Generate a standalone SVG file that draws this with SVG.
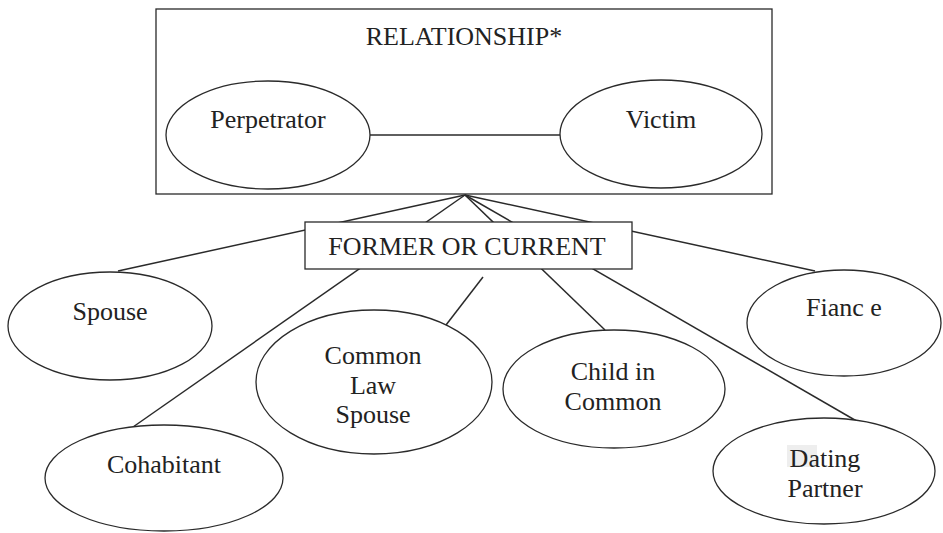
<svg xmlns="http://www.w3.org/2000/svg" width="943" height="533" viewBox="0 0 943 533">
<style>
  .shape { fill: #ffffff; stroke: #2a2a2a; stroke-width: 1.3; }
  .line { stroke: #2a2a2a; stroke-width: 1.5; fill: none; }
  .lbl { font-family: "Liberation Serif", "Times New Roman", serif; font-size: 26px; fill: #222; text-anchor: middle; }
</style>
<rect width="943" height="533" fill="#ffffff"/>
<g id="relationship">
  <rect class="shape" x="156" y="9" width="616" height="185"/>
  <text class="lbl" x="464" y="45">RELATIONSHIP*</text>
</g>
<g id="connectors">
  <line class="line" x1="370" y1="135" x2="560" y2="135"/>
  <line class="line" x1="465" y1="195" x2="118" y2="271"/>
  <line class="line" x1="465" y1="195" x2="133" y2="427"/>
  <line class="line" x1="483" y1="277" x2="446" y2="325"/>
  <line class="line" x1="465" y1="195" x2="605" y2="330"/>
  <line class="line" x1="465" y1="195" x2="860" y2="423"/>
  <line class="line" x1="465" y1="195" x2="815" y2="271"/>
</g>
<g id="perpetrator">
  <ellipse class="shape" cx="268" cy="135" rx="102" ry="54"/>
  <text class="lbl" x="268" y="128" font-size="22">Perpetrator</text>
</g>
<g id="victim">
  <ellipse class="shape" cx="661" cy="134" rx="101" ry="54"/>
  <text class="lbl" x="661" y="128" font-size="27">Victim</text>
</g>
<g id="former-or-current">
  <rect class="shape" x="305" y="222" width="327" height="47"/>
  <text class="lbl" x="467" y="255">FORMER OR CURRENT</text>
</g>
<g id="spouse">
  <ellipse class="shape" cx="110" cy="326" rx="102" ry="54"/>
  <text class="lbl" x="110" y="320">Spouse</text>
</g>
<g id="cohabitant">
  <ellipse class="shape" cx="164" cy="478" rx="119" ry="53"/>
  <text class="lbl" x="164" y="473">Cohabitant</text>
</g>
<g id="common-law-spouse">
  <ellipse class="shape" cx="374" cy="382" rx="118" ry="72"/>
  <text class="lbl" x="373" y="364">Common</text>
  <text class="lbl" x="373" y="394">Law</text>
  <text class="lbl" x="373" y="423">Spouse</text>
</g>
<g id="child-in-common">
  <ellipse class="shape" cx="614" cy="389" rx="111" ry="59"/>
  <text class="lbl" x="613" y="380">Child in</text>
  <text class="lbl" x="613" y="410">Common</text>
</g>
<g id="fiance">
  <ellipse class="shape" cx="844" cy="323" rx="97" ry="53"/>
  <text class="lbl" x="844" y="316">Fianc e</text>
</g>
<g id="dating-partner">
  <ellipse class="shape" cx="824" cy="471" rx="111" ry="53"/>
  <rect x="787" y="445" width="30" height="22" fill="#eeeeee"/>
  <text class="lbl" x="825" y="467">Dating</text>
  <text class="lbl" x="825" y="497">Partner</text>
</g>
</svg>
